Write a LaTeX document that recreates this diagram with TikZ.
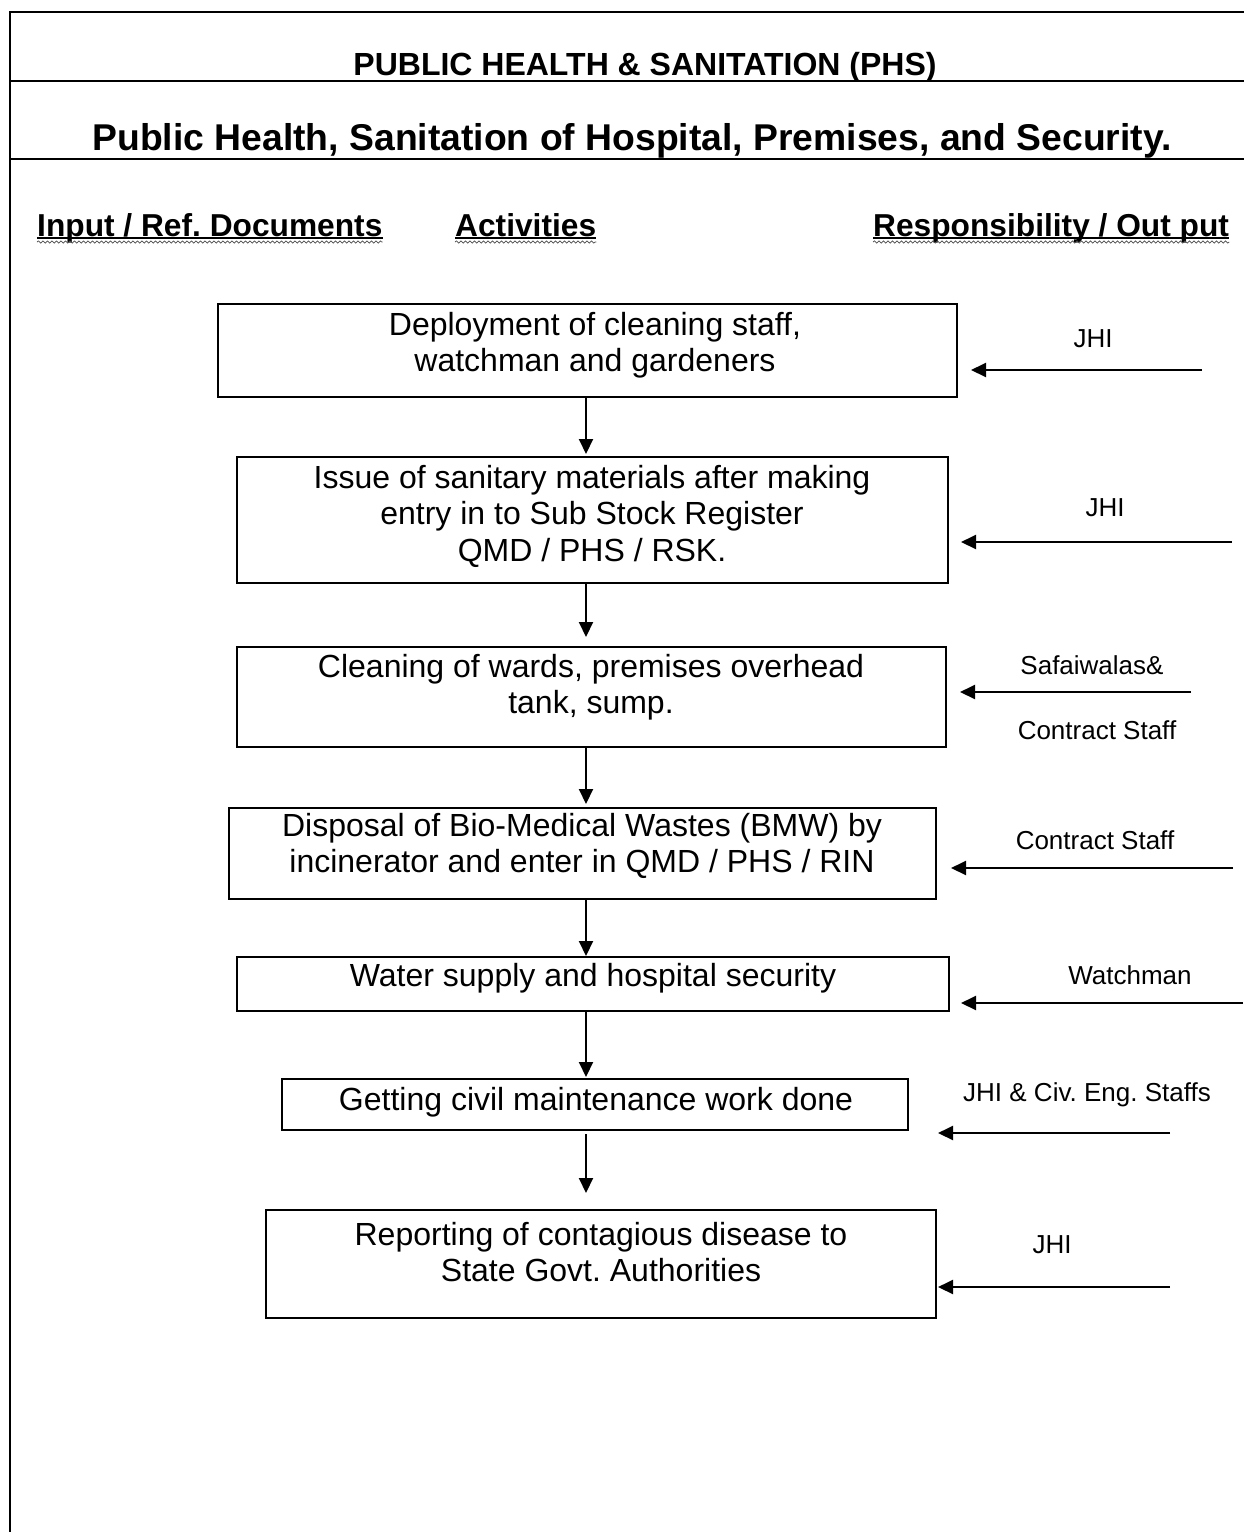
\documentclass[tikz,border=0pt]{standalone}
\usepackage{fontspec}
\setmainfont{Liberation Sans}
\usetikzlibrary{arrows.meta,decorations.pathmorphing}
\frenchspacing

\newcommand{\actfont}{\fontsize{32}{36.5}\selectfont}
\newcommand{\resfont}{\fontsize{26}{30}\selectfont}
\newcommand{\colfont}{\bfseries\fontsize{31.7}{36}\selectfont}

\tikzset{
  rule/.style={line width=2pt, line cap=rect},
  actbox/.style={draw, line width=2pt, rectangle, inner sep=0pt},
  acttext/.style={font=\actfont, align=center, inner sep=0pt},
  restext/.style={font=\resfont, inner sep=0pt},
  colhead/.style={font=\colfont, inner sep=0pt, anchor=base west},
  flow/.style={line width=2pt, -{Triangle[length=15pt,width=14pt]}},
  squiggle/.style={line width=0.7pt, draw=black!70, decorate,
    decoration={snake, segment length=4.5pt, amplitude=1.1pt}}
}

\begin{document}
\begin{tikzpicture}[x=1pt, y=-1pt]
\useasboundingbox (0,0) rectangle (1243,1532);

% page frame and title rules
\draw[rule] (1243,12) -- (10,12) -- (10,1532);
\draw[rule] (10,81) -- (1243,81);
\draw[rule] (10,159) -- (1243,159);

% titles
\node[font=\bfseries\fontsize{32}{38}\selectfont, inner sep=0pt, anchor=base]
  (hdr) at (645,75) {PUBLIC HEALTH \& SANITATION (PHS)};
\node[font=\bfseries\fontsize{37.3}{44}\selectfont, inner sep=0pt, anchor=base]
  (ttl) at (632,150) {Public Health, Sanitation of Hospital, Premises, and Security.};

% column headings, underlined, with the spelling squiggle beneath
\node[colhead] (c1) at (37,236) {Input / Ref. Documents};
\node[colhead] (c2) at (455,236) {Activities};
\node[colhead] (c3) at (873,236) {Responsibility / Out put};
\foreach \c in {c1,c2,c3}{
  \draw[line width=2pt] ([yshift=-2pt]\c.base west) -- ([yshift=-2pt]\c.base east);
  \draw[squiggle] ([yshift=-6pt]\c.base west) -- ([yshift=-6pt]\c.base east);
}

% activity boxes
\node[actbox, minimum width=739pt, minimum height=93pt]  (b1) at (587.5,350.5) {};
\node[actbox, minimum width=711pt, minimum height=126pt] (b2) at (592.5,520) {};
\node[actbox, minimum width=709pt, minimum height=100pt] (b3) at (591.5,697) {};
\node[actbox, minimum width=707pt, minimum height=91pt]  (b4) at (582.5,853.5) {};
\node[actbox, minimum width=712pt, minimum height=54pt]  (b5) at (593,984) {};
\node[actbox, minimum width=626pt, minimum height=51pt]  (b6) at (595,1104.5) {};
\node[actbox, minimum width=670pt, minimum height=108pt] (b7) at (601,1264) {};

% activity texts
\node[acttext] (t1) at (595,345) {Deployment of cleaning staff,\\watchman and gardeners};
\node[acttext] (t2) at (592,516) {Issue of sanitary materials after making\\entry in to Sub Stock Register\\QMD / PHS / RSK.};
\node[acttext] (t3) at (591,687) {Cleaning of wards, premises overhead\\tank, sump.};
\node[acttext] (t4) at (582,846) {Disposal of Bio-Medical Wastes (BMW) by\\incinerator and enter in QMD / PHS / RIN};
\node[acttext] (t5) at (593,978) {Water supply and hospital security};
\node[acttext] (t6) at (596,1102) {Getting civil maintenance work done};
\node[acttext] (t7) at (601,1252) {Reporting of contagious disease to\\State Govt. Authorities};

% main flow
\coordinate (axis) at (586,0);
\draw[flow, shorten >=2pt]  (b1.south -| axis) -- (b2.north -| axis);
\draw[flow, shorten >=9pt]  (b2.south -| axis) -- (b3.north -| axis);
\draw[flow, shorten >=3pt]  (b3.south -| axis) -- (b4.north -| axis);
\draw[flow]                 (b4.south -| axis) -- (b5.north -| axis);
\draw[flow, shorten >=1pt]  (b5.south -| axis) -- (b6.north -| axis);
\draw[flow, shorten <=3pt, shorten >=16pt] (b6.south -| axis) -- (b7.north -| axis);

% responsibility inputs
\coordinate (s1) at (1202,370);
\coordinate (s2) at (1232,542);
\coordinate (s3) at (1191,692);
\coordinate (s4) at (1233,868);
\coordinate (s5) at (1243,1003);
\coordinate (s6) at (1170,1133);
\coordinate (s7) at (1170,1287);
\draw[flow, shorten >=13pt] (s1) -- (s1 -| b1.east);
\draw[flow, shorten >=12pt] (s2) -- (s2 -| b2.east);
\draw[flow, shorten >=13pt] (s3) -- (s3 -| b3.east);
\draw[flow, shorten >=14pt] (s4) -- (s4 -| b4.east);
\draw[flow, shorten >=11pt] (s5) -- (s5 -| b5.east);
\draw[flow, shorten >=29pt] (s6) -- (s6 -| b6.east);
\draw[flow, shorten >=1pt]  (s7) -- (s7 -| b7.east);

\node[restext] (r1)  at (1093,339)  {JHI};
\node[restext] (r2)  at (1105,508)  {JHI};
\node[restext] (r3a) at (1092,665)  {Safaiwalas\&};
\node[restext] (r3b) at (1097,730)  {Contract Staff};
\node[restext] (r4)  at (1095,840)  {Contract Staff};
\node[restext] (r5)  at (1130,975)  {Watchman};
\node[restext] (r6)  at (1087,1095) {JHI \& Civ. Eng. Staffs};
\node[restext] (r7)  at (1052,1245) {JHI};
\end{tikzpicture}
\end{document}
